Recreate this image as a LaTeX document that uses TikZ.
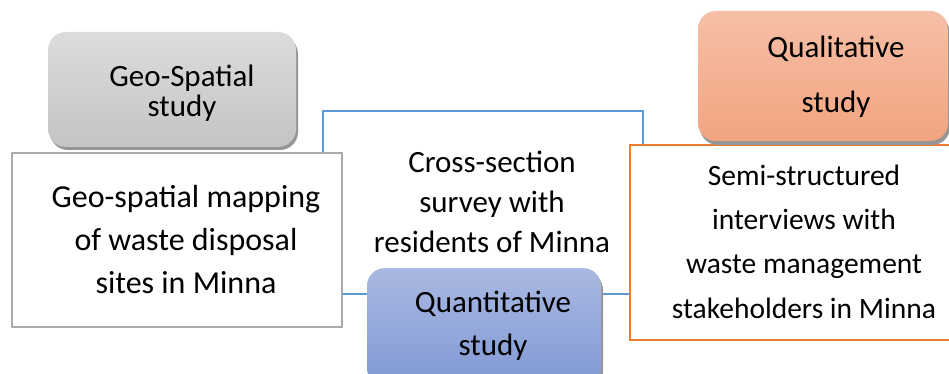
\documentclass[tikz,border=0pt]{standalone}
\usepackage{fontspec}
\setmainfont{Carlito}
\definecolor{bluelink}{RGB}{91,155,213}
\definecolor{orangeline}{RGB}{237,125,49}
\definecolor{greyline}{RGB}{170,170,170}
\definecolor{greytop}{RGB}{220,220,220}
\definecolor{greybot}{RGB}{196,196,196}
\definecolor{bluetop}{RGB}{170,185,226}
\definecolor{bluebot}{RGB}{128,152,212}
\definecolor{orangetop}{RGB}{246,191,166}
\definecolor{orangebot}{RGB}{243,164,128}
\definecolor{shadowgrey}{RGB}{150,150,150}
\tikzset{
  tab/.style={rounded corners=18pt, inner sep=0pt},
  tabshadow/.style={tab, fill=shadowgrey},
  framebox/.style={inner sep=0pt, line width=2.5pt, fill=white},
  txt/.style={align=center, inner sep=0pt, anchor=base},
}
\begin{document}
\begin{tikzpicture}[x=1pt,y=-1pt]
\clip (0,0) rectangle (949,374);
\fill[white] (0,0) rectangle (949,374);

% survey frame (behind the other boxes)
\node[draw=bluelink, line width=1.8pt, inner sep=0pt, minimum width=320pt, minimum height=183pt] (survey) at (483,202.5) {};

% method boxes
\node[framebox, draw=greyline, minimum width=330pt, minimum height=174pt] (mapping) at (177,240) {};
\node[framebox, draw=orangeline, minimum width=330pt, minimum height=195pt] (interviews) at (795,242.5) {};

% study tabs with shadows
\fill[tabshadow] (50,36) rectangle (298,150);
\shade[tab, top color=greytop, bottom color=greybot] (48,32) rectangle (296,147);
\fill[tabshadow] (700,15) rectangle (950,145);
\shade[tab, top color=orangetop, bottom color=orangebot] (698,11) rectangle (948,141);
\fill[tabshadow] (369,272) rectangle (603,390);
\shade[tab, top color=bluetop, bottom color=bluebot] (367,268) rectangle (601,386);

% texts (anchored at the baseline of the last line)
\node[txt, font=\fontsize{31}{30}\selectfont] (geotxt) at (182,117) {Geo-Spatial\\study};
\node[txt, font=\fontsize{31}{55}\selectfont] (qualtxt) at (836,113) {Qualitative\\study};
\node[txt, font=\fontsize{31}{43}\selectfont] (quanttxt) at (493,355) {Quantitative\\study};
\node[txt, font=\fontsize{31}{40}\selectfont] (surveytxt) at (492,252) {Cross-section\\survey with\\residents of Minna};
\node[txt, font=\fontsize{32}{43}\selectfont] (maptxt) at (186,293) {Geo-spatial mapping\\of waste disposal\\sites in Minna};
\node[txt, font=\fontsize{29.5}{44.3}\selectfont] (intxt) at (804,318) {Semi-structured\\interviews with\\waste management\\stakeholders in Minna};
\end{tikzpicture}
\end{document}
